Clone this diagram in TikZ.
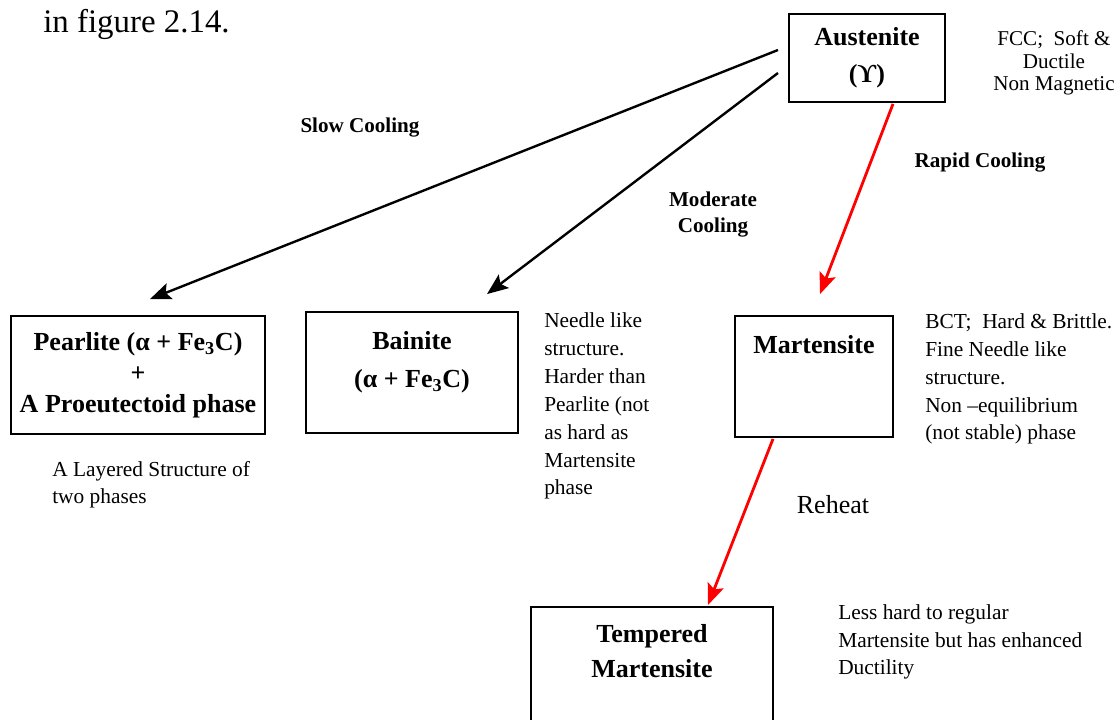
\documentclass[tikz,border=0pt]{standalone}
\usepackage{fontspec}
\setmainfont{Liberation Serif}
\usetikzlibrary{arrows.meta,calc}

\begin{document}
\begin{tikzpicture}[x=0.025cm, y=-0.025cm,
	phase/.style={draw, line width=1.3pt, align=center, inner sep=0pt, font=\fontsize{18.5}{26}\selectfont\bfseries},
	note/.style={align=left, inner sep=0pt, font=\fontsize{15.2}{19.8}\selectfont},
	how/.style={align=center, inner sep=0pt, font=\fontsize{15}{18.5}\selectfont\bfseries},
	slow/.style={line width=1.7pt, -{Stealth[length=15pt,width=12pt,inset=3pt]}},
	fast/.style={red, line width=2pt, -{Stealth[length=15pt,width=12pt,inset=3pt]}}]
			\useasboundingbox (0,0) rectangle (1120,720);

			\node[anchor=base west, inner sep=0pt, font=\fontsize{23.4}{28}\selectfont] (intro) at (43,33) {in figure 2.14.};

			\node[phase, minimum width=3.9cm, minimum height=2.2cm] (aus) at (867,58) {Austenite\\(ϒ)};
			\node[phase, minimum width=6.35cm, minimum height=2.95cm, font=\fontsize{18.5}{22}\selectfont\bfseries] (pearl) at (138,375) {Pearlite (α + Fe\textsubscript{3}C)\\+\\A Proeutectoid phase};
			\node[phase, minimum width=5.3cm, minimum height=3.025cm, text depth=18pt, font=\fontsize{18.5}{27}\selectfont\bfseries] (bain) at (412,372.5) {Bainite\\(α + Fe\textsubscript{3}C)};
			\node[phase, minimum width=3.95cm, minimum height=3.025cm, text depth=45pt] (mart) at (814,376.5) {Martensite};
			\node[phase, anchor=north, minimum width=6.05cm, minimum height=3.6cm, text depth=40pt, font=\fontsize{18.5}{25}\selectfont\bfseries] (temp) at (652,606) {Tempered\\Martensite};

			\node[how] (slowlbl) at (360,128) {Slow Cooling};
			\node[how] (modlbl) at (713,215) {Moderate\\Cooling};
			\node[how] (rapidlbl) at (980,163) {Rapid Cooling};
			\node[inner sep=0pt, font=\fontsize{18.5}{22}\selectfont] (reheat) at (833,505) {Reheat};

			\node[note, align=center, font=\fontsize{15}{16.3}\selectfont, anchor=base] (ausnote) at (1054,91) {FCC;~ Soft \&\\Ductile\\Non Magnetic};
			\node[note, anchor=base west] (pearlnote) at (52,504) {A Layered Structure of\\two phases};
			\node[note, anchor=base west] (bainnote) at (544,495) {Needle like\\structure.\\Harder than\\Pearlite (not\\as hard as\\Martensite\\phase};
			\node[note, anchor=base west] (martnote) at (925,440) {BCT;~ Hard \& Brittle.\\Fine Needle like\\structure.\\Non –equilibrium\\(not stable) phase};
			\node[note, anchor=base west] (tempnote) at (838,675) {Less hard to regular\\Martensite but has enhanced\\Ductility};

			\coordinate (slowfrom) at (778,50);
			\coordinate (modfrom) at (778,73);

			\path
				(slowfrom) edge[slow] ($(pearl.north)+(12,-16)$)
				(modfrom) edge[slow] ($(bain.north)+(75,-17)$)
				($(aus.south)+(26,1)$) edge[fast] ($(mart.north)+(6,-21)$)
				($(mart.south)+(-41,1)$) edge[fast] ($(temp.north)+(56,-1)$)
			;
		\end{tikzpicture}
\end{document}
